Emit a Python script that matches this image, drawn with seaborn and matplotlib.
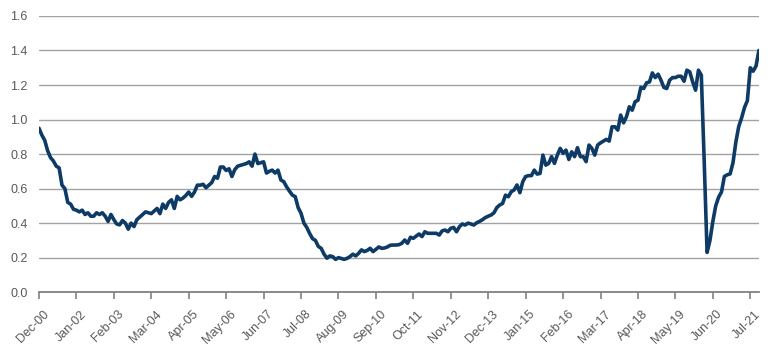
import numpy as np
import pandas as pd
import matplotlib
matplotlib.use("Agg")
import matplotlib.pyplot as plt
import matplotlib.transforms as mtrans
import seaborn as sns

# ── Data: monthly values, Dec-2000 .. Oct-2021 ───────────────────────────────
values_2001 = [0.95, 0.91, 0.88, 0.82, 0.78, 0.76, 0.73, 0.72, 0.62, 0.60, 0.52, 0.51, 0.48]
values_2002_2004 = [0.475, 0.465, 0.475, 0.45, 0.46, 0.44, 0.44, 0.46, 0.45, 0.46, 0.44, 0.41,
                    0.45, 0.42, 0.395, 0.39, 0.415, 0.40, 0.365, 0.40, 0.38, 0.42, 0.435, 0.45,
                    0.465, 0.46, 0.455, 0.47, 0.485, 0.455, 0.51, 0.485, 0.52, 0.535, 0.485, 0.555]
values_2005_2007 = [0.535, 0.545, 0.56, 0.58, 0.555, 0.58, 0.62, 0.62, 0.625, 0.605, 0.62, 0.635,
                    0.67, 0.66, 0.725, 0.725, 0.705, 0.715, 0.67, 0.71, 0.73, 0.735, 0.74, 0.745,
                    0.755, 0.73, 0.80, 0.745, 0.75, 0.755, 0.69, 0.70, 0.707, 0.69, 0.707, 0.65]
values_2008_2010 = [0.64, 0.61, 0.585, 0.562, 0.553, 0.49, 0.457, 0.40, 0.375, 0.34, 0.31, 0.30,
                    0.265, 0.254, 0.22, 0.197, 0.21, 0.206, 0.19, 0.20, 0.195, 0.19, 0.196, 0.206,
                    0.22, 0.21, 0.225, 0.245, 0.235, 0.242, 0.254, 0.235, 0.248, 0.262, 0.254, 0.256]
values_2011_2013 = [0.262, 0.272, 0.273, 0.273, 0.275, 0.283, 0.302, 0.283, 0.318, 0.312, 0.325, 0.337,
                    0.322, 0.35, 0.341, 0.341, 0.341, 0.341, 0.331, 0.355, 0.36, 0.35, 0.37, 0.375,
                    0.35, 0.379, 0.395, 0.389, 0.40, 0.395, 0.389, 0.402, 0.41, 0.42, 0.432, 0.44]
values_2014_2016 = [0.447, 0.46, 0.49, 0.505, 0.514, 0.562, 0.553, 0.582, 0.592, 0.621, 0.576, 0.64,
                    0.67, 0.675, 0.675, 0.707, 0.684, 0.688, 0.794, 0.736, 0.746, 0.785, 0.746, 0.794,
                    0.833, 0.804, 0.823, 0.769, 0.813, 0.785, 0.837, 0.785, 0.785, 0.756, 0.852, 0.833]
values_2017_2019 = [0.794, 0.852, 0.865, 0.875, 0.885, 0.875, 0.958, 0.958, 0.939, 1.026, 0.981, 1.016,
                    1.074, 1.054, 1.103, 1.112, 1.186, 1.18, 1.213, 1.218, 1.27, 1.243, 1.263, 1.228,
                    1.186, 1.18, 1.228, 1.243, 1.243, 1.251, 1.251, 1.222, 1.286, 1.276, 1.218, 1.17]
values_2020_2021 = [1.286, 1.257, 0.76, 0.23, 0.30, 0.41, 0.50, 0.55, 0.58, 0.67, 0.68, 0.685,
                    0.75, 0.87, 0.96, 1.01, 1.07, 1.11, 1.30, 1.28, 1.31, 1.40]

series = (values_2001 + values_2002_2004 + values_2005_2007 + values_2008_2010
          + values_2011_2013 + values_2014_2016 + values_2017_2019 + values_2020_2021)

tick_labels = ["Dec-00", "Jan-02", "Feb-03", "Mar-04", "Apr-05", "May-06", "Jun-07",
               "Jul-08", "Aug-09", "Sep-10", "Oct-11", "Nov-12", "Dec-13", "Jan-15",
               "Feb-16", "Mar-17", "Apr-18", "May-19", "Jun-20", "Jul-21"]
y_ticks = [0.0, 0.2, 0.4, 0.6, 0.8, 1.0, 1.2, 1.4, 1.6]

df = pd.DataFrame({"month": np.arange(len(series)), "value": series})
tick_pos = np.arange(0, len(series), 13)[:len(tick_labels)]

# ── Plot ──────────────────────────────────────────────────────────────────────
sns.set_style("white")
plt.rcParams["font.family"] = ["Liberation Sans", "DejaVu Sans"]

fig = plt.figure(figsize=(7.7, 3.55), dpi=100)
ax = fig.add_axes([0.0506, 0.177, 0.935, 0.778])

for yv in y_ticks[1:]:
    ax.axhline(yv, color="#a3a3a3", lw=1.0, zorder=1)

sns.lineplot(data=df, x="month", y="value", ax=ax, color="#0d3b66",
             lw=2.6, zorder=3)

ax.set_xlim(0, len(series) - 1)
ax.set_ylim(0, 1.6)
ax.set_yticks(y_ticks)
ax.set_yticklabels([f"{v:.1f}" for v in y_ticks])
ax.set_xticks(tick_pos)
ax.set_xlabel("")
ax.set_ylabel("")

for side in ["left", "right", "top"]:
    ax.spines[side].set_visible(False)
ax.spines["bottom"].set_color("#808080")
ax.spines["bottom"].set_linewidth(1.3)

ax.tick_params(axis="x", direction="out", length=5, width=1.2, color="#808080",
               bottom=True, labelbottom=False)
ax.tick_params(axis="y", length=0, labelsize=9, labelcolor="#595959", pad=8)

# rotated date labels, drawn as text under each tick
lab_trans = (mtrans.blended_transform_factory(ax.transData, ax.transAxes)
             + mtrans.ScaledTranslation(4 / 100, -16 / 100, fig.dpi_scale_trans))
for pos, lab in zip(tick_pos, tick_labels):
    ax.text(pos, 0, lab, transform=lab_trans, rotation=45, ha="right", va="top",
            rotation_mode="anchor", fontsize=9, color="#595959", clip_on=False)

fig.savefig("out.png", dpi=100)
